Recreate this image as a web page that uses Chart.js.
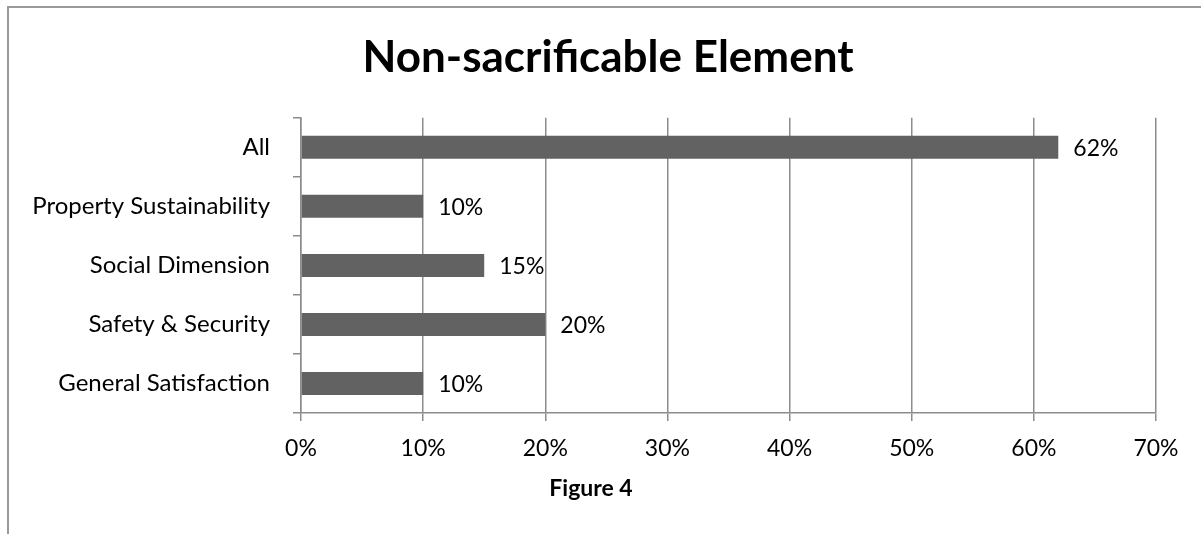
<!DOCTYPE html>
<html>
<head>
<meta charset="utf-8">
<script src="https://cdn.jsdelivr.net/npm/chart.js@4/dist/chart.umd.min.js"></script>
<style>
  html, body { margin: 0; padding: 0; background: #fff; overflow: hidden; }
  #wrap { position: relative; width: 1201px; height: 534px; }
  #frame { position: absolute; left: 7px; top: 6px; width: 1220px; height: 560px; border: 2px solid #999; box-sizing: border-box; }
  #bar-chart { position: absolute; left: 0; top: 0; }
</style>
</head>
<body>
<div id="wrap">
  <div id="frame"></div>
  <canvas id="bar-chart" width="1201" height="534"></canvas>
</div>
<script>
const categories = ['All', 'Property Sustainability', 'Social Dimension', 'Safety & Security', 'General Satisfaction'];
const shares = [62, 10, 15, 20, 10];
const xTicks = [0, 10, 20, 30, 40, 50, 60, 70];

const gridGray = '#8c8c8c';

Chart.defaults.font.family = 'Lato';
Chart.defaults.color = '#000';

// value labels just right of each bar
const barLabels = {
    id: 'barLabels',
    afterDatasetsDraw(chart) {
        const ctx = chart.ctx;
        const meta = chart.getDatasetMeta(0);
        ctx.save();
        ctx.font = '23px Lato';
        ctx.fillStyle = '#000';
        ctx.textAlign = 'left';
        ctx.textBaseline = 'middle';
        meta.data.forEach((bar, i) => {
            ctx.fillText(shares[i] + '%', bar.x + 15, bar.y + 1);
        });
        ctx.restore();
    }
};

// caption under the axis, and nudge the title box a bit right
const caption = {
    id: 'caption',
    afterLayout(chart) {
        if (chart.titleBlock) chart.titleBlock.left = 60;
    },
    afterDraw(chart) {
        const ctx = chart.ctx;
        ctx.save();
        ctx.font = 'bold 23px Lato';
        ctx.fillStyle = '#000';
        ctx.textAlign = 'center';
        ctx.textBaseline = 'middle';
        ctx.fillText('Figure 4', 591, 489);
        ctx.restore();
    }
};

const barChart = document.getElementById('bar-chart');

new Chart(barChart, {
    type: 'bar',
    data: {
        labels: categories,
        datasets: [{
            data: shares,
            backgroundColor: '#626262',
            barPercentage: 0.39,
            categoryPercentage: 1
        }]
    },
    options: {
        indexAxis: 'y',
        responsive: false,
        animation: false,
        layout: {
            padding: { top: 0, right: 45, bottom: 0, left: 0 }
        },
        scales: {
            x: {
                min: 0,
                max: 70,
                afterFit: (scale) => { scale.height = 121; },
                afterBuildTicks: (scale) => {
                    scale.ticks = xTicks.map(v => ({ value: v }));
                },
                grid: {
                    color: gridGray,
                    lineWidth: 1.5,
                    tickLength: 8
                },
                border: {
                    display: true,
                    color: gridGray,
                    width: 1.5
                },
                ticks: {
                    padding: 14,
                    font: { size: 23 },
                    callback: (v) => v + '%'
                }
            },
            y: {
                afterFit: (scale) => { scale.width = 301; },
                grid: {
                    drawOnChartArea: false,
                    color: gridGray,
                    lineWidth: 1.5,
                    tickLength: 8
                },
                border: {
                    display: true,
                    color: gridGray,
                    width: 1.5
                },
                ticks: {
                    padding: 23,
                    font: { size: 24 }
                }
            }
        },
        plugins: {
            legend: { display: false },
            tooltip: { enabled: false },
            title: {
                display: true,
                text: 'Non-sacrificable Element',
                font: { size: 44, weight: 'bold' },
                color: '#000',
                padding: { top: 31, bottom: 34 }
            }
        }
    },
    plugins: [barLabels, caption]
});
</script>
</body>
</html>
